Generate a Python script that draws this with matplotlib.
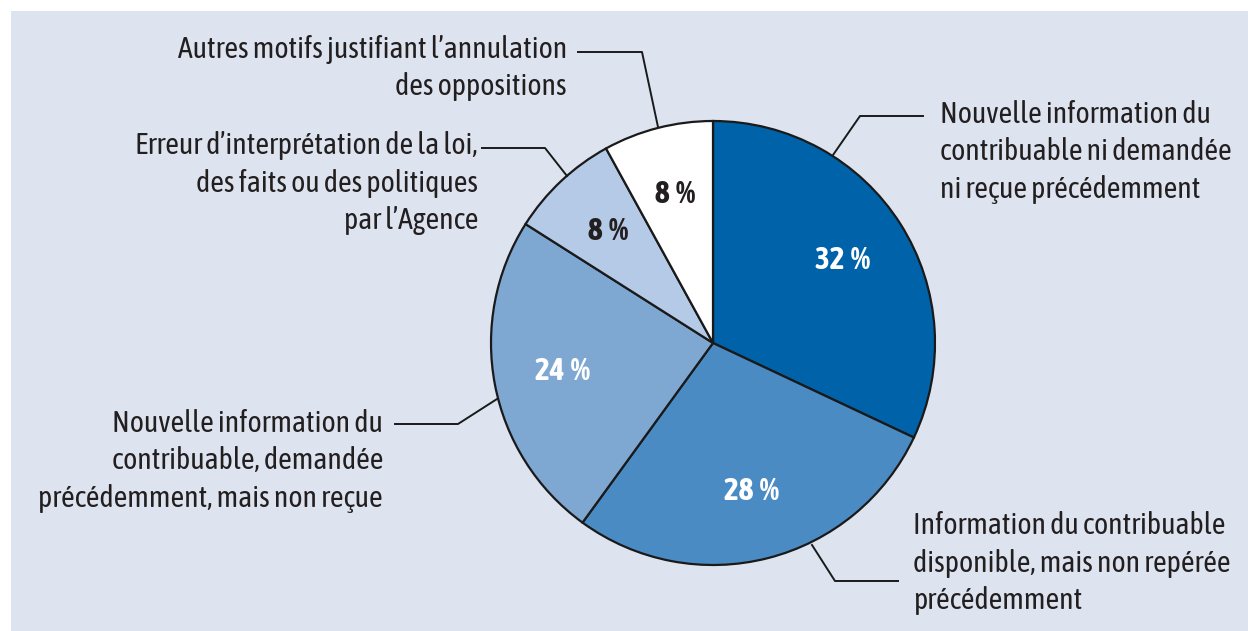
import matplotlib
matplotlib.use("Agg")
from matplotlib import pyplot as plt
from matplotlib.patches import Rectangle

# slices, clockwise from the top
labels = [
    "Nouvelle information du\ncontribuable ni demandée\nni reçue précédemment",
    "Information du contribuable\ndisponible, mais non repérée\nprécédemment",
    "Nouvelle information du\ncontribuable, demandée\nprécédemment, mais non reçue",
    "Erreur d\u2019interprétation de la loi,\ndes faits ou des politiques\npar l\u2019Agence",
    "Autres motifs justifiant l\u2019annulation\ndes oppositions",
]
values = [32, 28, 24, 8, 8]
colors = ["#0062a8", "#4b8bc4", "#7ea7d2", "#b5cae6", "#ffffff"]
pct_colors = ["white", "white", "white", "#231f20", "#231f20"]

# label layout (pixel coords, y from top): text anchor, alignment, leader line
text_pos = [(940, 152), (913, 563), (383, 461), (478, 183), (567, 68)]
text_ha = ["left", "left", "right", "right", "right"]
leaders = [
    [(833, 155), (860, 116), (923, 116)],
    [(812, 545), (835, 581), (898, 581)],
    [(497, 399), (458, 424), (395, 424)],
    [(567, 176), (545, 148), (482, 148)],
    [(658, 127), (642, 52), (578, 52)],
]

W, H = 1248, 631
FONT = ["Asap Condensed", "DejaVu Sans"]
TXT = "#231f20"

fig = plt.figure(figsize=(W / 100, H / 100), dpi=100, facecolor="white")
ax = fig.add_axes([0, 0, 1, 1])

ax.add_patch(Rectangle((11, 0), W - 11, H - 11, facecolor="#dde4f0",
                       edgecolor="none", zorder=0))

cx, cy, r = 713, H - 343, 222
wedges, texts, autotexts = ax.pie(
    values, colors=colors, startangle=90, counterclock=False,
    center=(cx, cy), radius=r, autopct=lambda p: f"{p:.0f}\u2009%",
    pctdistance=0.69, frame=True,
    wedgeprops=dict(edgecolor="#1a1a1a", linewidth=1.6),
)
ax.set_xlim(0, W)
ax.set_ylim(0, H)
ax.set_aspect("equal")
ax.axis("off")
for t, c in zip(autotexts, pct_colors):
    t.set_color(c)
    t.set_fontsize(22.5)
    t.set_fontweight("bold")
    t.set_family(FONT)

for lab, (tx, ty), ha, pts in zip(labels, text_pos, text_ha, leaders):
    ax.text(tx, H - ty, lab, ha=ha, va="center", multialignment=ha,
            fontsize=21.5, color=TXT, family=FONT, linespacing=1.36)
    xs = [p[0] for p in pts]
    ys = [H - p[1] for p in pts]
    ax.plot(xs, ys, color="#1a1a1a", linewidth=1.4, zorder=3)

fig.savefig("out.png", dpi=100, facecolor="white")
